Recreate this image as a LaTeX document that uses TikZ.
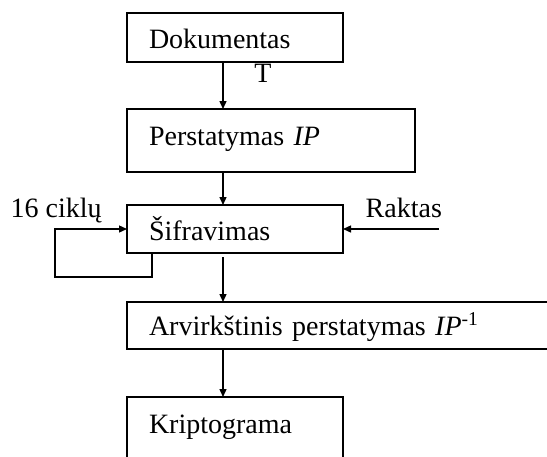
\documentclass[tikz,border=0pt]{standalone}
\usepackage{fontspec}
\setmainfont{Liberation Serif}
\usetikzlibrary{arrows.meta}
\begin{document}
\begin{tikzpicture}[x=1pt,y=-1pt,
  font=\fontsize{28}{32}\selectfont,
  line width=1.4pt,
  stagebox/.style={draw, rectangle, anchor=north west, inner xsep=22pt,
    inner ysep=0pt, align=left, outer sep=0pt},
  arr/.style={-{Triangle[length=8pt,width=7pt]}},
  lbl/.style={inner sep=0pt, anchor=base}]
\clip (0,0) rectangle (547,456);

% processing stages
\node[stagebox, text width=172pt, text height=35pt, text depth=14pt] (dok) at (127,13) {Dokumentas};
\node[stagebox, text width=244pt, text height=36pt, text depth=27pt] (per) at (127,109) {Perstatymas \textit{IP}};
\node[stagebox, text width=172pt, text height=35pt, text depth=13pt] (sif) at (127,205) {Šifravimas};
\node[stagebox, text width=520pt, text height=33pt, text depth=14pt] (arv) at (127,302) {Arvirkštinis perstatymas \textit{IP}\textsuperscript{-1}};
\node[stagebox, text width=172pt, text height=36pt, text depth=40pt] (kri) at (127,397) {Kriptograma};

% side labels
\node[lbl] (tlab) at (263,82) {T};
\node[lbl, anchor=base west] (cyc) at (10,217) {16 ciklų};
\node[lbl, anchor=base west] (key) at (365,217) {Raktas};

% main flow
\coordinate (ax) at (223,0);
\draw[arr] (ax |- dok.south) -- (ax |- per.north);
\draw[arr] (ax |- per.south) -- (ax |- sif.north);
\draw[arr, shorten <=4pt] (ax |- sif.south) -- (ax |- arv.north);
\draw[arr] (ax |- arv.south) -- (ax |- kri.north);

% key input
\coordinate (keyin) at (439,229);
\draw[arr] (keyin) -- (keyin -| sif.east);

% round feedback loop
\coordinate (loopx) at (152,0);
\coordinate (lb) at (55,277);
\draw[arr] (loopx |- sif.south) |- (lb) |- (sif.west |- keyin);
\end{tikzpicture}
\end{document}
